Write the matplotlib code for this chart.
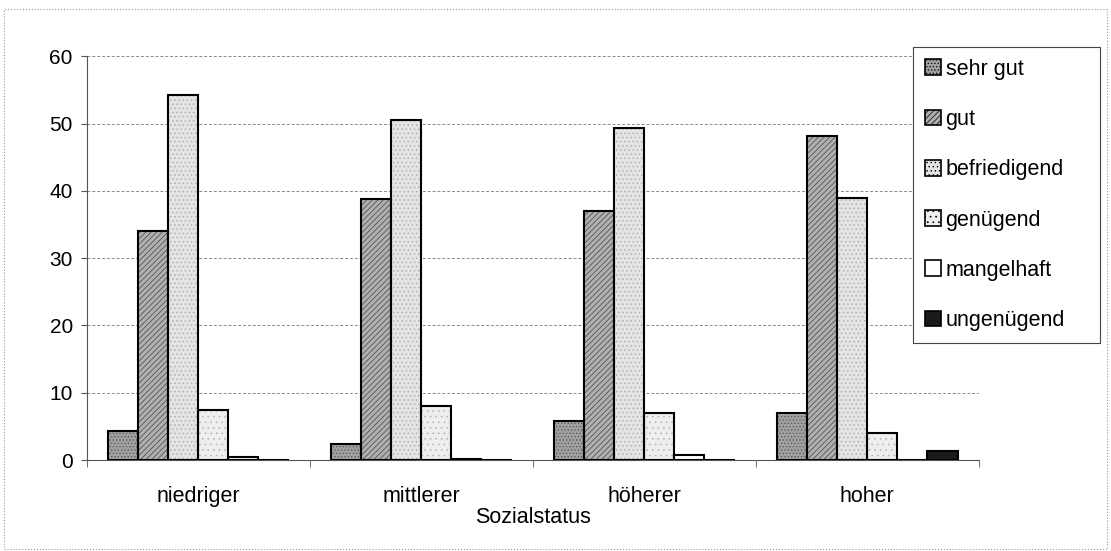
import numpy as np
import matplotlib
matplotlib.use("Agg")
import matplotlib.pyplot as plt

plt.rcParams['font.family'] = ['Liberation Sans', 'DejaVu Sans']
plt.rcParams['hatch.linewidth'] = 0.5

# Daten (Prozent je Sozialstatus)
gruppen = ["niedriger", "mittlerer", "höherer", "hoher"]
noten = ["sehr gut", "gut", "befriedigend", "genügend", "mangelhaft", "ungenügend"]
sehr_gut = [4.3, 2.4, 5.8, 7.0]
gut = [34.1, 38.8, 37.0, 48.2]
befriedigend = [54.2, 50.5, 49.4, 38.9]
genuegend = [7.4, 8.0, 7.0, 4.0]
mangelhaft = [0.5, 0.2, 0.7, 0.0]
ungenuegend = [0.0, 0.0, 0.0, 1.4]
werte = [sehr_gut, gut, befriedigend, genuegend, mangelhaft, ungenuegend]

farben = ['#a0a0a0', '#b0b0b0', '#e4e4e4', '#eeeeee', '#ffffff', '#1a1a1a']
musterfarbe = ['#555555', '#444444', '#aaaaaa', '#b8b8b8', '#ffffff', '#1a1a1a']
muster = ['.....', '//////', '....', '...', '', '']

fig = plt.figure(figsize=(11.11, 5.51), dpi=100)
ax = fig.add_axes([0.078, 0.165, 0.803, 0.733])

x = np.arange(len(gruppen))
breite = 0.135
for i, (name, vals) in enumerate(zip(noten, werte)):
    pos = x - 2.5 * breite + i * breite
    # Füllung mit feinem Raster, danach schwarze Umrandung
    ax.bar(pos, vals, breite, color=farben[i], edgecolor=musterfarbe[i], linewidth=0,
           hatch=muster[i], zorder=3)
    ax.bar(pos, vals, breite, color='none', edgecolor='black', linewidth=1.5, zorder=4)

ax.set_xlim(-0.5, len(gruppen) - 0.5)
ax.set_ylim(0, 60)
ax.set_yticks(range(0, 61, 10))
ax.tick_params(axis='y', labelsize=15, length=4, color='#555555', pad=6)
ax.set_xticks(x)
ax.set_xticklabels(gruppen, fontsize=15.5)
ax.tick_params(axis='x', length=0, pad=19)
ax.set_xticks(np.arange(-0.5, len(gruppen)), minor=True)
ax.tick_params(axis='x', which='minor', length=5, color='#555555')
ax.set_xlabel("Sozialstatus", fontsize=15.5, labelpad=0)

ax.yaxis.grid(True, linestyle=(0, (3, 2)), color='#8a8a8a', linewidth=0.7, zorder=0)
for s in ['top', 'right']:
    ax.spines[s].set_visible(False)
ax.spines['left'].set_color('#555555')
ax.spines['bottom'].set_color('#555555')

# Legende aus Stellvertreter-Flächen
griffe = [plt.Rectangle((0, 0), 1, 1, facecolor=farben[i], edgecolor='black',
                        hatch=muster[i], linewidth=1.2) for i in range(len(noten))]
leg = fig.legend(griffe, noten, loc='upper left', mode='expand',
                 bbox_to_anchor=(0.822, 0.373, 0.168, 0.542),
                 fontsize=15.5, handlelength=0.75, handleheight=0.75, handletextpad=0.2,
                 labelspacing=1.36, borderpad=0.55, borderaxespad=0, fancybox=False,
                 edgecolor='#444444', framealpha=1)
leg.get_frame().set_linewidth(0.8)

# gepunkteter Rahmen um die Grafik
rahmen = plt.Rectangle((0.004, 0.004), 0.992, 0.98, transform=fig.transFigure,
                       fill=False, edgecolor='#999999', linestyle=':', linewidth=0.8)
fig.patches.append(rahmen)

fig.savefig("out.png", dpi=100)
